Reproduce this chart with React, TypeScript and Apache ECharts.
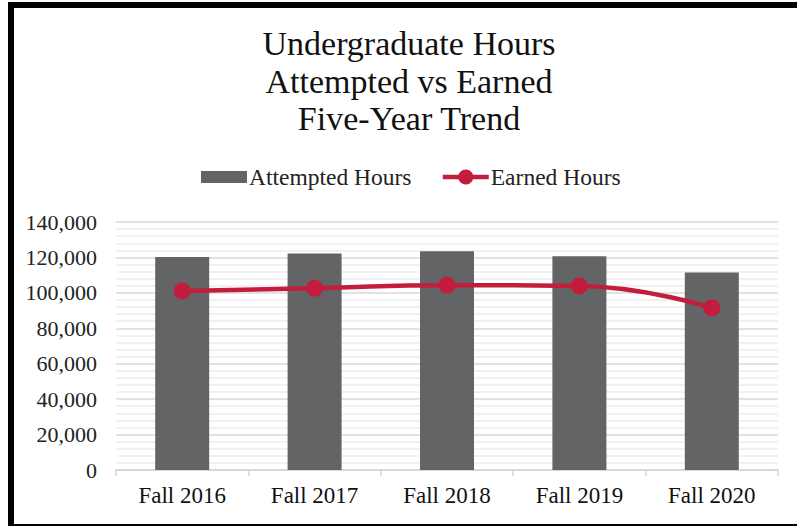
import React, { useEffect, useRef } from "react";
import * as echarts from "echarts";

const categories = ["Fall 2016", "Fall 2017", "Fall 2018", "Fall 2019", "Fall 2020"];
const attemptedHours = [120300, 122200, 123500, 120700, 111500];
const earnedHours = [101100, 102600, 104300, 103900, 91500];
const titleLines = ["Undergraduate Hours", "Attempted vs Earned", "Five-Year Trend"];

const FONT = "'Liberation Serif', 'DejaVu Serif', serif";
const RED = "#c41c3c";

export default function App() {
  const ref = useRef<HTMLDivElement>(null);
  useEffect(() => {
    if (!ref.current) return;
    const chart = echarts.init(ref.current, undefined, { renderer: "svg" });
    chart.setOption({
      animation: false,
      title: {
        text: titleLines.join("\n"),
        left: 404,
        textAlign: "center",
        top: 20,
        textStyle: { fontFamily: FONT, fontSize: 34, fontWeight: "normal", color: "#111", lineHeight: 37.5 },
      },
      legend: {
        top: 160,
        left: 196,
        itemGap: 29,
        itemWidth: 46,
        itemHeight: 19,
        textStyle: { fontFamily: FONT, fontSize: 23.5, color: "#222", padding: [0, 0, 0, -3] },
        data: [
          { name: "Attempted Hours", icon: "path://M0,0M0,3.5h46v12h-46zM46,19" },
          { name: "Earned Hours", lineStyle: { width: 4.5, color: RED } },
        ],
      },
      grid: { left: 116, right: 19, top: 222, bottom: 56 },
      xAxis: {
        type: "category",
        data: categories,
        axisLine: { lineStyle: { color: "#d4d4d4", width: 1.5 } },
        axisTick: { show: true, length: 6, lineStyle: { color: "#d4d4d4", width: 1.5 } },
        axisLabel: { fontFamily: FONT, fontSize: 23, color: "#111", margin: 14 },
      },
      yAxis: {
        type: "value",
        min: 0,
        max: 140000,
        interval: 20000,
        axisLine: { show: false },
        axisTick: { show: false },
        axisLabel: {
          fontFamily: FONT,
          fontSize: 22,
          color: "#222",
          margin: 19,
          formatter: (v: number) => v.toLocaleString("en-US"),
        },
        splitLine: { lineStyle: { color: "#d9d9d9", width: 1.5 } },
        minorTick: { show: false, splitNumber: 5 },
        minorSplitLine: { show: true, lineStyle: { color: "#ececec", width: 1.5 } },
      },
      series: [
        {
          name: "Attempted Hours",
          type: "bar",
          data: attemptedHours,
          barWidth: 54,
          itemStyle: { color: "#636466" },
        },
        {
          name: "Earned Hours",
          type: "line",
          data: earnedHours,
          smooth: true,
          symbol: "circle",
          symbolSize: 17,
          lineStyle: { color: RED, width: 4.5 },
          itemStyle: { color: RED },
        },
      ],
    });
    return () => chart.dispose();
  }, []);

  return (
    <div style={{ position: "absolute", left: 0, top: 0, width: 797, height: 526, overflow: "hidden", background: "#fff" }}>
      <div
        style={{
          position: "absolute",
          left: 8,
          top: 2,
          width: 820,
          height: 528,
          border: "6px solid #000",
          boxSizing: "border-box",
        }}
      />
      <div ref={ref} style={{ position: "absolute", left: 0, top: 0, width: 797, height: 526 }} />
    </div>
  );
}
